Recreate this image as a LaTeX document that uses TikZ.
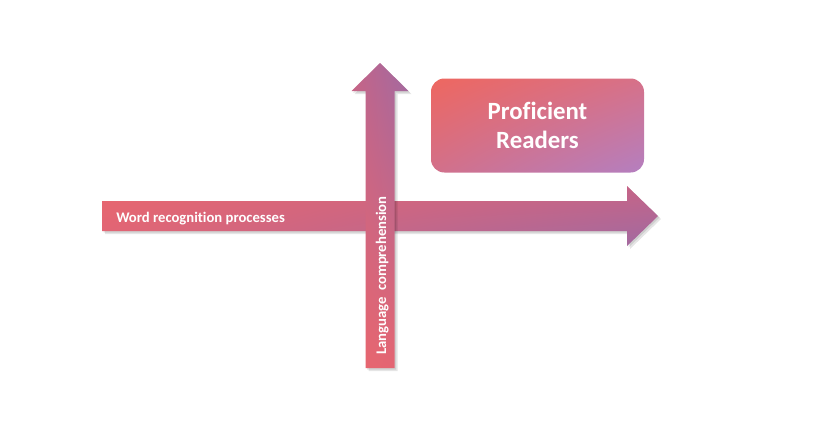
\documentclass[tikz,border=0pt]{standalone}
\usepackage{fontspec}
\setmainfont{Carlito}[Ligatures=NoCommon]
\usetikzlibrary{shadings}
\definecolor{ha}{RGB}{232,102,110}
\definecolor{hb}{RGB}{224,101,118}
\definecolor{hc}{RGB}{196,100,136}
\definecolor{hd}{RGB}{160,106,162}
\definecolor{va}{RGB}{232,102,110}
\definecolor{vb}{RGB}{226,101,116}
\definecolor{ba}{RGB}{238,103,96}
\definecolor{bb}{RGB}{214,113,137}
\definecolor{bc}{RGB}{210,112,138}
\definecolor{bd}{RGB}{180,127,192}
\begin{document}
\begin{tikzpicture}[x=0.75pt,y=-0.75pt,
  shadowfill/.style={fill=black,opacity=0.10},
  lbl/.style={text=white,font=\bfseries\fontsize{11}{13}\selectfont,inner sep=0pt}]
\useasboundingbox (0,0) rectangle (833,429);
% horizontal arrow
\foreach \s in {1.5,3}{
 \fill[shadowfill,shift={(\s,\s)}] (102,201) -- (627,201) -- (627,186) -- (658,216) -- (627,246) -- (627,231) -- (102,231) -- cycle;}
\shade[upper left=ha,lower left=hb,upper right=hc,lower right=hd]
  (102,201) -- (627,201) -- (627,186) -- (658,216) -- (627,246) -- (627,231) -- (102,231) -- cycle;
\node[lbl,anchor=base west] (wrp) at (116,222) {Word recognition processes};
% vertical arrow
\foreach \s in {1.5,3}{
 \fill[shadowfill,shift={(\s,\s)}] (365.5,368) -- (365.5,91) -- (351.5,91) -- (380,63) -- (408.5,91) -- (394.5,91) -- (394.5,368) -- cycle;}
\shade[lower left=va,lower right=vb,upper left=hc,upper right=hd]
  (365.5,368) -- (365.5,91) -- (351.5,91) -- (380,63) -- (408.5,91) -- (394.5,91) -- (394.5,368) -- cycle;
\node[lbl,anchor=base,rotate=90] (lc) at (386,275.5) {Language\hspace{0.2em} comprehension};
% box
\node[rounded corners=10pt,minimum width=213*0.75pt,minimum height=94*0.75pt,inner sep=0pt,
      upper left=ba,upper right=bb,lower left=bc,lower right=bd,
      text=white,align=center,font=\bfseries\fontsize{18.6}{22}\selectfont] (prof) at (537.5,125.5) {Proficient\\Readers};
\end{tikzpicture}
\end{document}
